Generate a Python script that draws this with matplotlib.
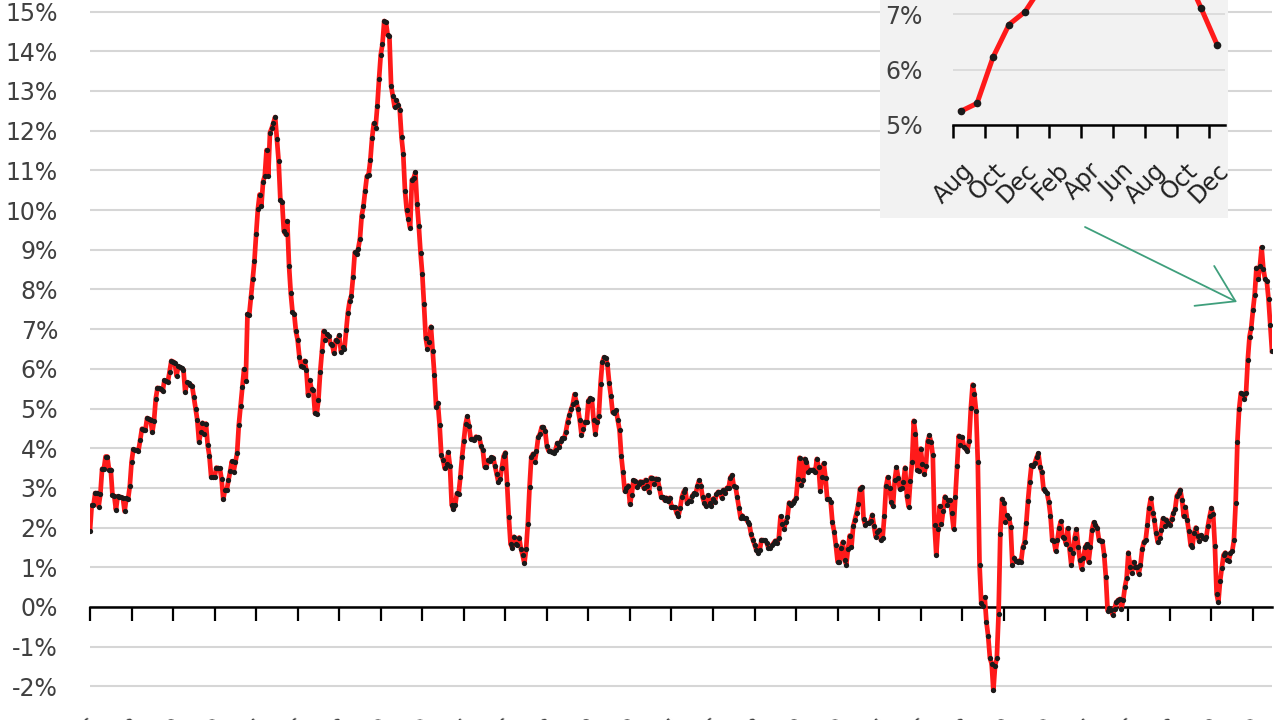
import matplotlib
matplotlib.use("Agg")
import matplotlib.pyplot as plt
import numpy as np
import pandas as pd
from matplotlib.patches import Rectangle

# US CPI, year-over-year change (%), monthly Jan 1966 - Dec 2022
cpi_yoy = [
    1.92, 2.56, 2.56, 2.87, 2.87, 2.53, 2.85, 3.48, 3.48, 3.79, 3.79, 3.46,  # 1966
    3.46, 2.81, 2.80, 2.45, 2.79, 2.78, 2.76, 2.75, 2.41, 2.74, 2.72, 3.04,  # 1967
    3.65, 3.97, 3.96, 3.95, 3.94, 4.20, 4.49, 4.47, 4.46, 4.76, 4.74, 4.72,  # 1968
    4.40, 4.69, 5.25, 5.52, 5.51, 5.48, 5.44, 5.71, 5.70, 5.68, 5.93, 6.20,  # 1969
    6.18, 6.15, 5.82, 6.06, 6.04, 6.01, 5.98, 5.41, 5.66, 5.63, 5.60, 5.57,  # 1970
    5.29, 5.00, 4.71, 4.16, 4.40, 4.64, 4.36, 4.62, 4.08, 3.80, 3.28, 3.27,  # 1971
    3.27, 3.51, 3.50, 3.49, 3.23, 2.71, 2.95, 2.94, 3.19, 3.42, 3.67, 3.41,  # 1972
    3.65, 3.87, 4.59, 5.06, 5.53, 5.99, 5.70, 7.38, 7.36, 7.80, 8.25, 8.71,  # 1973
    9.39, 10.02, 10.39, 10.09, 10.71, 10.86, 11.51, 10.86, 11.95, 12.06, 12.20, 12.34,  # 1974
    11.80, 11.23, 10.25, 10.21, 9.47, 9.39, 9.72, 8.60, 7.91, 7.44, 7.38, 6.94,  # 1975
    6.72, 6.29, 6.07, 6.05, 6.20, 5.97, 5.35, 5.71, 5.49, 5.46, 4.88, 4.86,  # 1976
    5.22, 5.91, 6.44, 6.95, 6.73, 6.87, 6.83, 6.62, 6.60, 6.39, 6.72, 6.70,  # 1977
    6.84, 6.43, 6.55, 6.50, 6.97, 7.41, 7.70, 7.84, 8.31, 8.93, 8.89, 9.03,  # 1978
    9.28, 9.86, 10.09, 10.49, 10.85, 10.89, 11.26, 11.82, 12.18, 12.07, 12.61, 13.29,  # 1979
    13.91, 14.18, 14.76, 14.73, 14.41, 14.38, 13.13, 12.87, 12.60, 12.77, 12.65, 12.52,  # 1980
    11.83, 11.41, 10.49, 10.00, 9.78, 9.55, 10.76, 10.80, 10.95, 10.14, 9.59, 8.92,  # 1981
    8.39, 7.62, 6.78, 6.51, 6.68, 7.06, 6.44, 5.85, 5.04, 5.14, 4.59, 3.83,  # 1982
    3.71, 3.49, 3.60, 3.90, 3.55, 2.58, 2.46, 2.56, 2.86, 2.85, 3.27, 3.79,  # 1983
    4.19, 4.60, 4.80, 4.56, 4.23, 4.22, 4.20, 4.29, 4.27, 4.26, 4.05, 3.95,  # 1984
    3.53, 3.52, 3.70, 3.69, 3.77, 3.76, 3.55, 3.35, 3.14, 3.23, 3.51, 3.80,  # 1985
    3.89, 3.11, 2.26, 1.59, 1.49, 1.77, 1.58, 1.57, 1.75, 1.47, 1.30, 1.10,  # 1986
    1.46, 2.10, 3.03, 3.78, 3.86, 3.65, 3.93, 4.28, 4.36, 4.53, 4.53, 4.43,  # 1987
    4.05, 3.93, 3.93, 3.90, 3.89, 3.96, 4.13, 4.02, 4.17, 4.25, 4.25, 4.42,  # 1988
    4.67, 4.83, 4.98, 5.11, 5.36, 5.17, 4.98, 4.71, 4.34, 4.49, 4.66, 4.65,  # 1989
    5.20, 5.26, 5.23, 4.71, 4.36, 4.67, 4.82, 5.62, 6.16, 6.29, 6.27, 6.11,  # 1990
    5.65, 5.31, 4.90, 4.89, 4.95, 4.70, 4.45, 3.80, 3.39, 2.92, 2.99, 3.06,  # 1991
    2.60, 2.82, 3.19, 3.18, 3.02, 3.09, 3.16, 3.15, 2.99, 3.20, 3.05, 2.90,  # 1992
    3.26, 3.25, 3.09, 3.23, 3.22, 3.00, 2.78, 2.77, 2.69, 2.75, 2.68, 2.75,  # 1993
    2.52, 2.52, 2.51, 2.36, 2.29, 2.49, 2.77, 2.90, 2.96, 2.61, 2.67, 2.67,  # 1994
    2.80, 2.86, 2.85, 3.05, 3.19, 3.04, 2.76, 2.62, 2.54, 2.81, 2.61, 2.54,  # 1995
    2.73, 2.65, 2.84, 2.90, 2.89, 2.75, 2.95, 2.88, 3.00, 2.99, 3.26, 3.32,  # 1996
    3.04, 3.03, 2.76, 2.50, 2.23, 2.30, 2.23, 2.23, 2.15, 2.08, 1.83, 1.70,  # 1997
    1.57, 1.44, 1.37, 1.44, 1.69, 1.68, 1.68, 1.62, 1.49, 1.49, 1.55, 1.61,  # 1998
    1.67, 1.61, 1.73, 2.28, 2.09, 1.96, 2.14, 2.26, 2.63, 2.56, 2.62, 2.68,  # 1999
    2.74, 3.22, 3.76, 3.07, 3.19, 3.73, 3.66, 3.41, 3.45, 3.45, 3.45, 3.39,  # 2000
    3.73, 3.53, 2.92, 3.27, 3.62, 3.25, 2.72, 2.72, 2.65, 2.13, 1.90, 1.55,  # 2001
    1.14, 1.14, 1.48, 1.64, 1.18, 1.07, 1.46, 1.80, 1.51, 2.03, 2.20, 2.38,  # 2002
    2.60, 2.98, 3.02, 2.22, 2.06, 2.11, 2.11, 2.16, 2.32, 2.04, 1.77, 1.88,  # 2003
    1.93, 1.69, 1.74, 2.29, 3.05, 3.27, 2.99, 2.65, 2.54, 3.19, 3.52, 3.26,  # 2004
    2.97, 3.01, 3.15, 3.51, 2.80, 2.53, 3.17, 3.64, 4.69, 4.35, 3.46, 3.42,  # 2005
    3.99, 3.60, 3.36, 3.55, 4.17, 4.32, 4.15, 3.82, 2.06, 1.31, 1.97, 2.54,  # 2006
    2.08, 2.42, 2.78, 2.57, 2.69, 2.69, 2.36, 1.97, 2.76, 3.54, 4.31, 4.08,  # 2007
    4.28, 4.03, 3.98, 3.94, 4.18, 5.02, 5.60, 5.37, 4.94, 3.66, 1.07, 0.09,  # 2008
    0.03, 0.24, -0.38, -0.74, -1.28, -1.43, -2.10, -1.48, -1.29, -0.18, 1.84, 2.72,  # 2009
    2.63, 2.14, 2.31, 2.24, 2.02, 1.05, 1.24, 1.15, 1.14, 1.17, 1.14, 1.50,  # 2010
    1.63, 2.11, 2.68, 3.16, 3.57, 3.56, 3.63, 3.77, 3.87, 3.53, 3.39, 2.96,  # 2011
    2.93, 2.87, 2.65, 2.30, 1.70, 1.66, 1.41, 1.69, 1.99, 2.16, 1.76, 1.74,  # 2012
    1.59, 1.98, 1.47, 1.06, 1.36, 1.75, 1.96, 1.52, 1.18, 0.96, 1.24, 1.50,  # 2013
    1.58, 1.13, 1.51, 1.95, 2.13, 2.07, 1.99, 1.70, 1.66, 1.66, 1.32, 0.76,  # 2014
    -0.09, -0.03, -0.07, -0.20, -0.04, 0.12, 0.17, 0.20, -0.04, 0.17, 0.50, 0.73,  # 2015
    1.37, 1.02, 0.85, 1.13, 1.02, 1.01, 0.84, 1.06, 1.46, 1.64, 1.69, 2.07,  # 2016
    2.50, 2.74, 2.38, 2.20, 1.87, 1.63, 1.73, 1.94, 2.23, 2.04, 2.20, 2.11,  # 2017
    2.07, 2.21, 2.36, 2.46, 2.80, 2.87, 2.95, 2.70, 2.28, 2.52, 2.18, 1.91,  # 2018
    1.55, 1.52, 1.86, 2.00, 1.79, 1.65, 1.81, 1.75, 1.71, 1.76, 2.05, 2.29,  # 2019
    2.49, 2.33, 1.54, 0.33, 0.12, 0.65, 0.99, 1.31, 1.37, 1.18, 1.17, 1.36,  # 2020
    1.40, 1.68, 2.62, 4.16, 4.99, 5.39, 5.37, 5.25, 5.39, 6.22, 6.81, 7.04,  # 2021
    7.48, 7.87, 8.54, 8.26, 8.58, 9.06, 8.52, 8.26, 8.20, 7.75, 7.11, 6.45,  # 2022
]
months = pd.date_range("1966-01-01", periods=len(cpi_yoy), freq="MS")

# inset: Aug 2021 - Dec 2022
inset_months = ["Aug", "Sep", "Oct", "Nov", "Dec", "Jan", "Feb", "Mar", "Apr",
                "May", "Jun", "Jul", "Aug", "Sep", "Oct", "Nov", "Dec"]
inset_values = [5.25, 5.39, 6.22, 6.81, 7.04, 7.48, 7.87, 8.54, 8.26,
                8.58, 9.06, 8.52, 8.26, 8.20, 7.75, 7.11, 6.45]

main_yticks = list(range(-2, 16))
inset_yticks = [5, 6, 7, 8, 9, 10]

TXT = "#404040"
plt.rcParams["font.family"] = ["DejaVu Sans"]

W, H = 1280, 720
fig = plt.figure(figsize=(12.8, 7.2), dpi=100)

# ---- main chart ----
px1 = 39.7            # pixels per 1 %
zero_y = 607          # pixel row of 0 %
ax_bottom_px = 705
ax = fig.add_axes([90 / W, (H - ax_bottom_px) / H, 1182 / W, ax_bottom_px / H])
x = np.arange(len(cpi_yoy))
ax.plot(x, cpi_yoy, color="#ff1a1a", lw=3.4, zorder=3,
        marker="o", ms=3.8, mfc="#1a1a1a", mec="#1a1a1a", mew=0)
ax.set_xlim(0, len(cpi_yoy) - 1)
ax.set_ylim(-(ax_bottom_px - zero_y) / px1, zero_y / px1)

ax.set_yticks(main_yticks)
ax.set_yticklabels([f"{v}%" for v in main_yticks])
ax.yaxis.grid(True, color="#d6d6d6", lw=1.5)
ax.set_axisbelow(True)
ax.tick_params(axis="y", length=0, pad=23, labelsize=17, labelcolor=TXT)
for s in ["top", "right", "left"]:
    ax.spines[s].set_visible(False)
ax.spines["bottom"].set_position(("data", 0))
ax.spines["bottom"].set_linewidth(1.8)
ax.spines["bottom"].set_zorder(2)
tick_idx = x[::24]
ax.set_xticks(tick_idx)
ax.tick_params(axis="x", direction="out", length=10, width=1.6, color="black",
               labelbottom=False)

# date labels at the bottom edge (mostly cropped, as in the reference)
sec = ax.secondary_xaxis(0)
sec.set_xticks(tick_idx)
sec.set_xticklabels([d.strftime("%b-%y") for d in months[tick_idx]],
                    rotation=45, ha="right", rotation_mode="anchor")
sec.tick_params(length=0, pad=8, labelsize=15, labelcolor=TXT)
sec.spines["bottom"].set_visible(False)

# ---- inset panel ----
box = Rectangle((880 / W, (H - 218) / H), 348 / W, 0.5, transform=fig.transFigure,
                facecolor="#f2f2f2", edgecolor="none", zorder=5)
fig.patches.append(box)

ipx1 = 55.5
iax_bottom = 125
iax = fig.add_axes([953 / W, (H - iax_bottom) / H, 272 / W, 5 * ipx1 / H], zorder=6)
iax.patch.set_alpha(0)
ix = np.arange(len(inset_values))
iax.plot(ix, inset_values, color="#ff1a1a", lw=3.6, zorder=3,
         marker="o", ms=5.5, mfc="#1a1a1a", mec="#1a1a1a", mew=0)
iax.set_xlim(-0.5, len(inset_values) - 0.5)
iax.set_ylim(5, 10)
iax.set_yticks(inset_yticks)
iax.set_yticklabels([f"{v}%" for v in inset_yticks])
iax.yaxis.grid(True, color="#dadada", lw=1.3)
iax.set_axisbelow(True)
iax.tick_params(axis="y", length=0, pad=22, labelsize=17, labelcolor=TXT)
for s in ["top", "right", "left"]:
    iax.spines[s].set_visible(False)
iax.spines["bottom"].set_linewidth(1.8)
iax.set_xticks(np.arange(-0.5, len(inset_values) - 1, 2))
iax.set_xticklabels([])
iax.tick_params(axis="x", which="major", direction="out", length=9, width=1.8)
iax.set_xticks(ix[::2], minor=True)
iax.set_xticklabels(inset_months[::2], minor=True, rotation=45, ha="right",
                    rotation_mode="anchor")
iax.tick_params(axis="x", which="minor", length=0, pad=24, labelsize=17,
                labelcolor="#202020")

# arrow pointing from the inset to the recent spike
fig.add_artist(plt.Annotation(
    "", xy=(1237 / W, (H - 302) / H), xytext=(1085 / W, (H - 227) / H),
    xycoords="figure fraction", textcoords="figure fraction",
    arrowprops=dict(arrowstyle="->,head_length=2.5,head_width=1.6",
                    color="#3f9f7c", lw=1.3, mutation_scale=10,
                    shrinkA=0, shrinkB=0),
    zorder=7))

fig.savefig("out.png", dpi=100)
